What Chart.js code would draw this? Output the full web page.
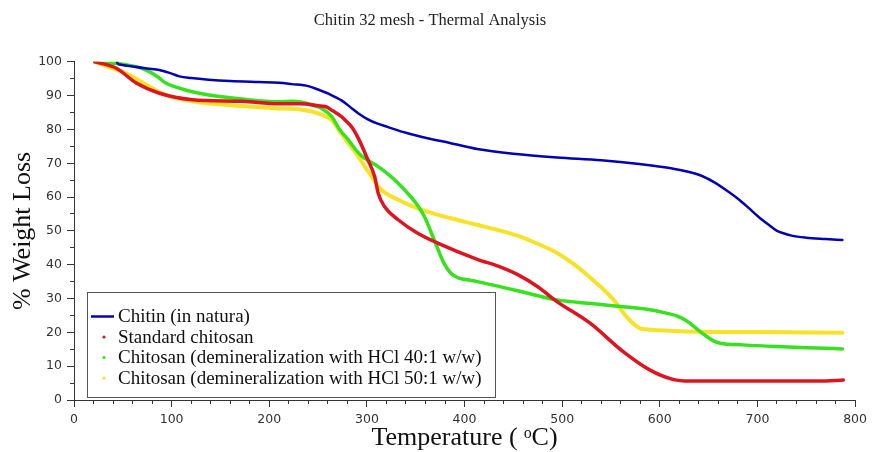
<!DOCTYPE html>
<html>
<head>
<meta charset="utf-8">
<script src="https://cdn.jsdelivr.net/npm/chart.js@4.4.1/dist/chart.umd.min.js"></script>
<style>
  html, body { margin: 0; padding: 0; background: #fff; }
</style>
</head>
<body>
<canvas id="tga" width="872" height="452"></canvas>
<script>
// data (temperature in C, weight in %)
const chartTitle = 'Chitin 32 mesh - Thermal Analysis';
const seriesLabels = [
  'Chitin (in natura)',
  'Standard chitosan',
  'Chitosan (demineralization with HCl 40:1 w/w)',
  'Chitosan (demineralization with HCl 50:1 w/w)'
];

const chitinT = [43.4, 44.5, 47, 60, 75, 87.5, 100, 108, 120, 138, 160, 189, 210, 223, 240, 250, 262, 274, 283, 291,
  301, 311, 321.6, 340, 362, 385, 413, 450, 494.7, 540, 579, 610, 640, 655, 670.7, 681, 691, 701, 711.5, 720,
  725.7, 735, 750, 770, 787];
const chitinW = [101, 99.6, 99.2, 98.6, 98, 97.6, 96.5, 95.7, 95.2, 94.7, 94.3, 94, 93.8, 93.4, 92.8, 91.8, 90.4, 88.6, 86.6, 84.8,
  83, 81.7, 80.7, 79, 77.4, 76, 74.2, 72.8, 71.7, 70.9, 69.8, 68.6, 66.6, 64.5, 61.5, 59.3, 56.8, 54.2, 51.8, 50,
  49.4, 48.6, 48, 47.6, 47.3];

const standardT = [21.4, 43.4, 63.8, 87.5, 121, 172, 209.7, 233, 250, 257.5, 265, 274, 277.6, 285, 291, 301, 308, 311.5, 318, 332,
  352, 372.5, 413, 435, 455, 475, 494.7, 528.6, 562.5, 589.6, 613.4, 630, 700, 760, 780, 788];
const standardW = [100, 98.1, 93.7, 90.7, 88.8, 88.3, 87.6, 87.6, 87, 86.8, 85.5, 83.8, 82.8, 80.5, 77.5, 71, 66, 61.2, 57.2, 53.3,
  49.3, 46.4, 41.6, 39.5, 37, 33.5, 29.1, 22.7, 14.3, 8.9, 6.1, 5.6, 5.6, 5.6, 5.8, 5.9];

const hcl40T = [21.4, 35, 53.6, 65, 77, 86, 94, 108, 120, 138, 172, 209.7, 223, 243.6, 255, 264, 272, 281, 288, 294.5,
  303, 311.5, 322, 332, 345, 352, 359, 369, 379, 386, 393, 399.7, 413, 450, 494.7, 530, 562.5, 585, 606.6, 620, 630,
  640, 647, 655, 662, 685, 720, 760, 787];
const hcl40W = [100, 99.7, 99.1, 98.5, 97.1, 95.5, 93.7, 92.2, 91.2, 90.2, 89, 88.2, 88.3, 87.3, 86, 83.8, 80, 76.9, 74.2, 72.2,
  70.5, 69, 66.7, 64.1, 60.1, 57.5, 54.2, 47.3, 40.4, 37.5, 36.2, 35.7, 35, 32.6, 29.6, 28.5, 27.6, 26.9, 25.7, 24.6, 22.9,
  20.5, 19, 17.5, 16.8, 16.3, 15.8, 15.4, 15.1];

const hcl50T = [21.4, 35, 53.6, 74, 94, 121, 155, 206, 230, 243.6, 255, 264, 272, 281, 290, 298, 305, 311.5, 320, 332,
  345, 362, 385, 413, 435, 455, 470, 494.7, 512, 528, 540, 552.7, 566, 579, 586, 600, 637, 700, 787];
const hcl50W = [100, 98.5, 96.6, 93.2, 90.2, 88.3, 87.3, 86.3, 86, 85.3, 84.2, 82.8, 79.5, 75.9, 72.5, 69, 66, 63.1, 61, 59.2,
  57.5, 55.7, 53.8, 51.8, 50.2, 48.5, 46.8, 43.5, 40.2, 36.4, 33.3, 29.6, 24.6, 21.3, 20.9, 20.6, 20.2, 20.1, 19.9];

const tempTicks = [0, 100, 200, 300, 400, 500, 600, 700, 800];
const weightTicks = [0, 10, 20, 30, 40, 50, 60, 70, 80, 90, 100];

function toPoints(xs, ys) {
  return xs.map((x, i) => ({ x: x, y: ys[i] }));
}

const serif = "'Liberation Serif', 'DejaVu Serif', serif";
const sans = "'DejaVu Sans', 'Liberation Sans', sans-serif";
const axisColor = '#333';

// legend drawn inside the plot, bottom left
const boxLegend = {
  id: 'boxLegend',
  afterDraw(chart) {
    const ctx = chart.ctx;
    const x0 = 87, y0 = 292, w = 408, h = 105;
    ctx.save();
    ctx.fillStyle = '#fff';
    ctx.fillRect(x0, y0, w, h);
    ctx.strokeStyle = '#555';
    ctx.lineWidth = 1;
    ctx.strokeRect(x0 + 0.5, y0 + 0.5, w, h);
    ctx.font = '19px ' + serif;
    ctx.textBaseline = 'middle';
    chart.data.datasets.forEach((ds, i) => {
      const cy = 316.5 + i * 20.5;
      if (ds.legendMark === 'line') {
        ctx.strokeStyle = ds.borderColor;
        ctx.lineWidth = 2.5;
        ctx.beginPath();
        ctx.moveTo(91, cy);
        ctx.lineTo(114, cy);
        ctx.stroke();
      } else {
        ctx.fillStyle = ds.borderColor;
        ctx.beginPath();
        ctx.arc(104, cy, 1.6, 0, Math.PI * 2);
        ctx.fill();
      }
      ctx.fillStyle = '#111';
      ctx.fillText(ds.label, 118, cy + 1);
    });
    ctx.restore();
  }
};

const ctx = document.getElementById('tga').getContext('2d');
const chart = new Chart(ctx, {
  type: 'line',
  data: {
    datasets: [
      { label: seriesLabels[0], data: toPoints(chitinT, chitinW), borderColor: '#0303b4', borderWidth: 2.5, legendMark: 'line' },
      { label: seriesLabels[1], data: toPoints(standardT, standardW), borderColor: '#de1420', borderWidth: 3.5, legendMark: 'dot' },
      { label: seriesLabels[2], data: toPoints(hcl40T, hcl40W), borderColor: '#36e21e', borderWidth: 3.5, legendMark: 'dot' },
      { label: seriesLabels[3], data: toPoints(hcl50T, hcl50W), borderColor: '#f8e228', borderWidth: 4, legendMark: 'dot' }
    ]
  },
  options: {
    responsive: false,
    animation: false,
    elements: {
      point: { radius: 0 },
      line: { cubicInterpolationMode: 'monotone', fill: false, borderJoinStyle: 'round', borderCapStyle: 'round' }
    },
    layout: { padding: { left: 0, right: 12, top: 0, bottom: 0 } },
    plugins: {
      legend: { display: false },
      tooltip: { enabled: false },
      title: {
        display: true,
        text: chartTitle,
        color: '#222',
        font: { family: serif, size: 16.5, weight: 'normal' },
        padding: { top: 11, bottom: 31 }
      }
    },
    scales: {
      x: {
        type: 'linear', position: 'bottom', min: 0, max: 800,
        afterBuildTicks: s => { s.ticks = tempTicks.map(v => ({ value: v })); },
        afterFit: s => { s.height = 52; },
        ticks: { color: axisColor, font: { family: sans, size: 12.5 }, padding: 5, maxRotation: 0 },
        grid: { drawOnChartArea: false, tickLength: 7, color: axisColor },
        border: { color: axisColor },
        title: { display: true, text: 'Temperature ( ᵒC)', color: '#111',
          font: { family: serif, size: 26, lineHeight: 1.05 }, padding: { top: 0, bottom: 0 } }
      },
      xMinor: {
        type: 'linear', axis: 'x', position: { y: 0 }, min: 0, max: 800,
        ticks: { display: false, stepSize: 20 },
        grid: { drawOnChartArea: false, tickLength: 4, color: axisColor },
        border: { display: false }
      },
      y: {
        type: 'linear', position: 'left', min: 0, max: 100,
        afterBuildTicks: s => { s.ticks = weightTicks.map(v => ({ value: v })); },
        afterFit: s => { s.width = 74; },
        ticks: { color: axisColor, font: { family: sans, size: 12.5 }, padding: 5 },
        grid: { drawOnChartArea: false, tickLength: 7, color: axisColor },
        border: { color: axisColor },
        title: { display: true, text: '% Weight Loss', color: '#111',
          font: { family: serif, size: 26 }, padding: { top: 8, bottom: 0 } }
      },
      yMinor: {
        type: 'linear', axis: 'y', position: { x: 0 }, min: 0, max: 100,
        ticks: { display: false, stepSize: 5 },
        grid: { drawOnChartArea: false, tickLength: 4, color: axisColor },
        border: { display: false }
      }
    }
  },
  plugins: [boxLegend]
});
</script>
</body>
</html>
